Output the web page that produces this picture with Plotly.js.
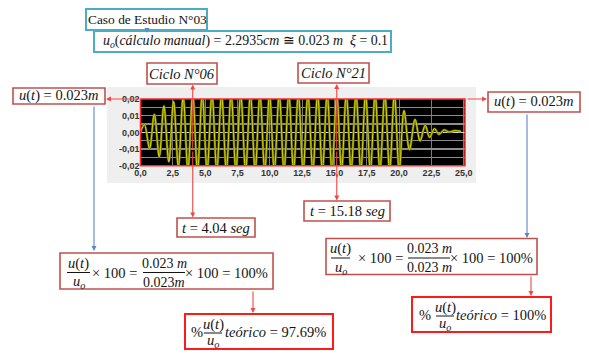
<!DOCTYPE html>
<html><head><meta charset="utf-8">
<script src="https://cdn.plot.ly/plotly-3.0.1.min.js"></script>
<style>html,body{margin:0;padding:0;background:#fff;}</style>
</head><body>
<div id="chart" style="width:589px;height:359px;"></div>
<script>
// ---- data ----
const timeSec = [0, 0.30, 0.70, 1.07, 1.45, 1.81, 2.19, 2.56, 2.93, 3.30, 3.67, 4.04,
  4.41, 4.78, 5.15, 5.53, 5.90, 6.27, 6.64, 7.01, 7.38, 7.75, 8.13, 8.50, 8.87, 9.24,
  9.61, 9.98, 10.35, 10.73, 11.10, 11.47, 11.84, 12.21, 12.58, 12.95, 13.33, 13.70,
  14.07, 14.44, 14.81, 15.18, 15.55, 15.92, 16.29, 16.67, 17.04, 17.41, 17.78, 18.15,
  18.52, 18.90, 19.27, 19.64, 20.01,
  20.38, 20.80, 21.24, 21.62, 22.02, 22.36, 22.74, 23.08, 23.48, 23.88, 24.27, 24.80];
const dispM = [0, 0.0048, -0.0096, 0.0108, -0.0146, 0.0158, -0.0176, 0.0185, -0.0205, 0.0215, -0.0225, 0.023,
  -0.023, 0.023, -0.023, 0.023, -0.023, 0.023, -0.023, 0.023, -0.023, 0.023, -0.023, 0.023, -0.023, 0.023,
  -0.023, 0.023, -0.023, 0.023, -0.023, 0.023, -0.023, 0.023, -0.023, 0.023, -0.023, 0.023,
  -0.023, 0.023, -0.023, 0.023, -0.023, 0.023, -0.023, 0.023, -0.023, 0.023, -0.023, 0.023,
  -0.023, 0.023, -0.023, 0.023, -0.023,
  0.0130, -0.0104, 0.0078, -0.0052, 0.0042, -0.0030, 0.0022, -0.0012, 0.0014, 0.0002, 0.0010, 0.0006];
const xTickVals = [0, 2.5, 5, 7.5, 10, 12.5, 15, 17.5, 20, 22.5, 25];
const xTickText = ['0,0','2,5','5,0','7,5','10,0','12,5','15,0','17,5','20,0','22,5','25,0'];
const yTickVals = [-0.02, -0.015, -0.01, -0.005, 0, 0.005, 0.01, 0.015, 0.02];
const yTickText = ['-0,02','','-0,01','','0,00','','0,01','','0,02'];
const markTimes = [4.04, 15.18];
const markTimeLabels = ['4.04', '15.18'];
const markCycles = ['Ciclo N°06', 'Ciclo N°21'];
const uoText = ['2.2935', '0.023', '0.1'];
const utText = '0.023';
const resultPct = ['97.69%', '100%'];

// ---- helpers (paper coords from pixels) ----
const W = 589, H = 359;
const X = p => p / W, Y = p => 1 - p / H;
const SERIF = 'Liberation Serif';
const TXT = '#141414';
const TEAL = '#4bacc6', DRED = '#c0504d', BRED = '#ff1a1a', BLUE = '#5b87c5', LRED = '#f04848';

const shapes = [];
const annotations = [];
function rect(x0, y0, x1, y1, color, width, fill, layer) {
  shapes.push({type:'rect', xref:'paper', yref:'paper', x0:X(x0), x1:X(x1), y0:Y(y1), y1:Y(y0),
    line:{color:color, width:width||0}, fillcolor: fill || 'rgba(0,0,0,0)', layer: layer || 'above'});
}
function hline(x0, x1, y, color, width) {
  shapes.push({type:'line', xref:'paper', yref:'paper', x0:X(x0), x1:X(x1), y0:Y(y), y1:Y(y),
    line:{color:color, width:width}, layer:'above'});
}
function txt(x, y, text, o) {
  o = o || {};
  annotations.push({x:X(x), y:Y(y), xref:'paper', yref:'paper', text:text, showarrow:false,
    xanchor:o.anchor || 'center', yanchor:'middle',
    font:{family:SERIF, size:o.size || 14.5, color:TXT}});
}
function arrow(hx, hy, tx, ty, color, opts) {
  opts = opts || {};
  annotations.push({x: opts.dataX !== undefined ? opts.dataX : X(hx), xref: opts.dataX !== undefined ? 'x' : 'paper',
    y:Y(hy), yref:'paper', text:'', showarrow:true, ax:tx - hx, ay:ty - hy, axref:'pixel', ayref:'pixel',
    arrowhead: opts.head === undefined ? 2 : opts.head, arrowsize:0.9, arrowwidth:1.1, arrowcolor:color, standoff:0});
}

// grey chart panel and black plot area
rect(107, 87, 476, 183, null, 0, '#efefef', 'below');
const PL = 140.5, PR = 465, PT = 99, PB = 165.7;
rect(PL, PT, PR, PB, null, 0, '#000000', 'below');
rect(PL, PT, PR, PB, '#ff2a2a', 1.5, null, 'above');

// top boxes
rect(86, 9, 207, 30, TEAL, 2, '#fff');
txt(147, 19.5, 'Caso de Estudio N°03', {size:13.4});
hline(147, 147, 30, BLUE, 1);
arrow(147, 33, 147, 30, BLUE, {head:2});
rect(94, 31, 391, 52, TEAL, 2, '#fff');
txt(101, 41.5, '<i>u<sub>o</sub></i>(<i>cálculo manual</i>) = ' + uoText[0] + '<i>cm</i> ≅ ' + uoText[1] +
  ' <i>m</i>  <i>ξ</i> = ' + uoText[2], {anchor:'left', size:13.9});

// cycle boxes
rect(147, 63, 217, 84, DRED, 1.6, '#fff');
txt(182, 73.5, '<i>' + markCycles[0] + '</i>');
rect(298, 63, 369, 83, DRED, 1.6, '#fff');
txt(333.5, 73, '<i>' + markCycles[1] + '</i>');

// u(t) boxes
const utStr = '<i>u</i>(<i>t</i>) = ' + utText + '<i>m</i>';
rect(13, 88, 105, 104, DRED, 1.6, '#fff');
txt(59, 96, utStr);
rect(488, 92, 580, 112, DRED, 1.6, '#fff');
txt(534, 102, utStr);

// t boxes
rect(177, 218, 255, 237, DRED, 1.6, '#fff');
txt(216, 227.5, '<i>t</i> = ' + markTimeLabels[0] + ' <i>seg</i>');
rect(304, 201, 390, 221, DRED, 1.6, '#fff');
txt(347, 211, '<i>t</i> = ' + markTimeLabels[1] + ' <i>seg</i>');

// formula boxes
const uFrac = '<i>u</i>(<i>t</i>)', uoFrac = '<i>u<sub>o</sub></i>';
function formula(x0, x1, top, f1c, f1w, midA, f2c, f2w, den2, midB) {
  rect(x0, top, x1, top + 36, DRED, 1.6, '#fff');
  const yn = top + 10, yb = top + 19.5, yd = top + 29, ym = top + 19.5;
  txt(f1c, yn, uFrac);
  hline(f1c - f1w/2, f1c + f1w/2, yb, TXT, 1);
  txt(f1c, yd, uoFrac);
  txt(midA, ym, '× 100 =');
  txt(f2c, yn, utText + ' <i>m</i>', {size:14});
  hline(f2c - f2w/2, f2c + f2w/2, yb, TXT, 1);
  txt(f2c, yd, den2, {size:14});
  txt(midB, ym, '× 100 = 100%');
}
formula(60, 273, 253, 78.5, 23, 114.5, 164, 42, utText + '<i>m</i>', 227);
formula(326, 537, 238.5, 340.5, 19, 380.5, 429, 42, utText + ' <i>m</i>', 491.5);

// result boxes
function result(x0, x1, top, pctX, fc, tx, val) {
  rect(x0, top, x1, top + 35, BRED, 2, '#fff');
  const ym = top + 18;
  txt(pctX, ym, '%');
  txt(fc, top + 10.5, uFrac);
  hline(fc - 9, fc + 9, top + 19, TXT, 1);
  txt(fc, top + 27, uoFrac);
  txt(tx, ym, '<i>teórico</i> = ' + val, {anchor:'left'});
}
result(185, 333, 314, 197, 213, 223, resultPct[0]);
result(412, 551, 297, 424.5, 445, 454, resultPct[1]);

// connectors
arrow(106, 99, PL, 99, LRED);
arrow(487, 99, PR + 1, 99, LRED);
arrow(94, 251, 94, 105, BLUE);
arrow(527, 238, 527, 113, BLUE);
arrow(253, 313, 253, 290, LRED);
arrow(531, 296, 531, 275, LRED);
arrow(0, 84.5, 0, 150, LRED, {dataX: markTimes[0]});
arrow(0, 217.5, 0, 150, LRED, {dataX: markTimes[0]});
arrow(0, 84, 0, 150, LRED, {dataX: markTimes[1]});
arrow(0, 200.5, 0, 150, LRED, {dataX: markTimes[1]});

const traces = [
  {x: timeSec, y: dispM, type:'scatter', mode:'lines', line:{color:'#6f6f00', width:2.4, shape:'spline', smoothing:1}, hoverinfo:'skip'},
  {x: timeSec, y: dispM, type:'scatter', mode:'lines', line:{color:'#e2e200', width:0.9, shape:'spline', smoothing:1}, hoverinfo:'skip'}
];

const tickFont = {family:'Liberation Sans', size:9, color:'#333333', weight:'bold'};
const layout = {
  width:W, height:H, margin:{l:0, r:0, t:0, b:0}, showlegend:false,
  paper_bgcolor:'#ffffff', plot_bgcolor:'rgba(0,0,0,0)',
  xaxis:{domain:[X(PL), X(PR)], range:[0, 25.1], tickmode:'array', tickvals:xTickVals, ticktext:xTickText,
    showgrid:true, gridcolor:'#7a7a7a', gridwidth:1, zeroline:false, showline:false, ticks:'',
    tickfont:tickFont, fixedrange:true},
  yaxis:{domain:[Y(PB), Y(PT)], range:[-0.02, 0.02], tickmode:'array', tickvals:yTickVals, ticktext:yTickText,
    showgrid:true, gridcolor:'#8e8e8e', gridwidth:1.2, zeroline:true, zerolinecolor:'#dadada', zerolinewidth:1.6,
    showline:false, ticks:'', tickfont:tickFont, fixedrange:true},
  shapes: shapes, annotations: annotations
};
Plotly.newPlot('chart', traces, layout, {displayModeBar:false, staticPlot:true});
</script>
</body></html>
